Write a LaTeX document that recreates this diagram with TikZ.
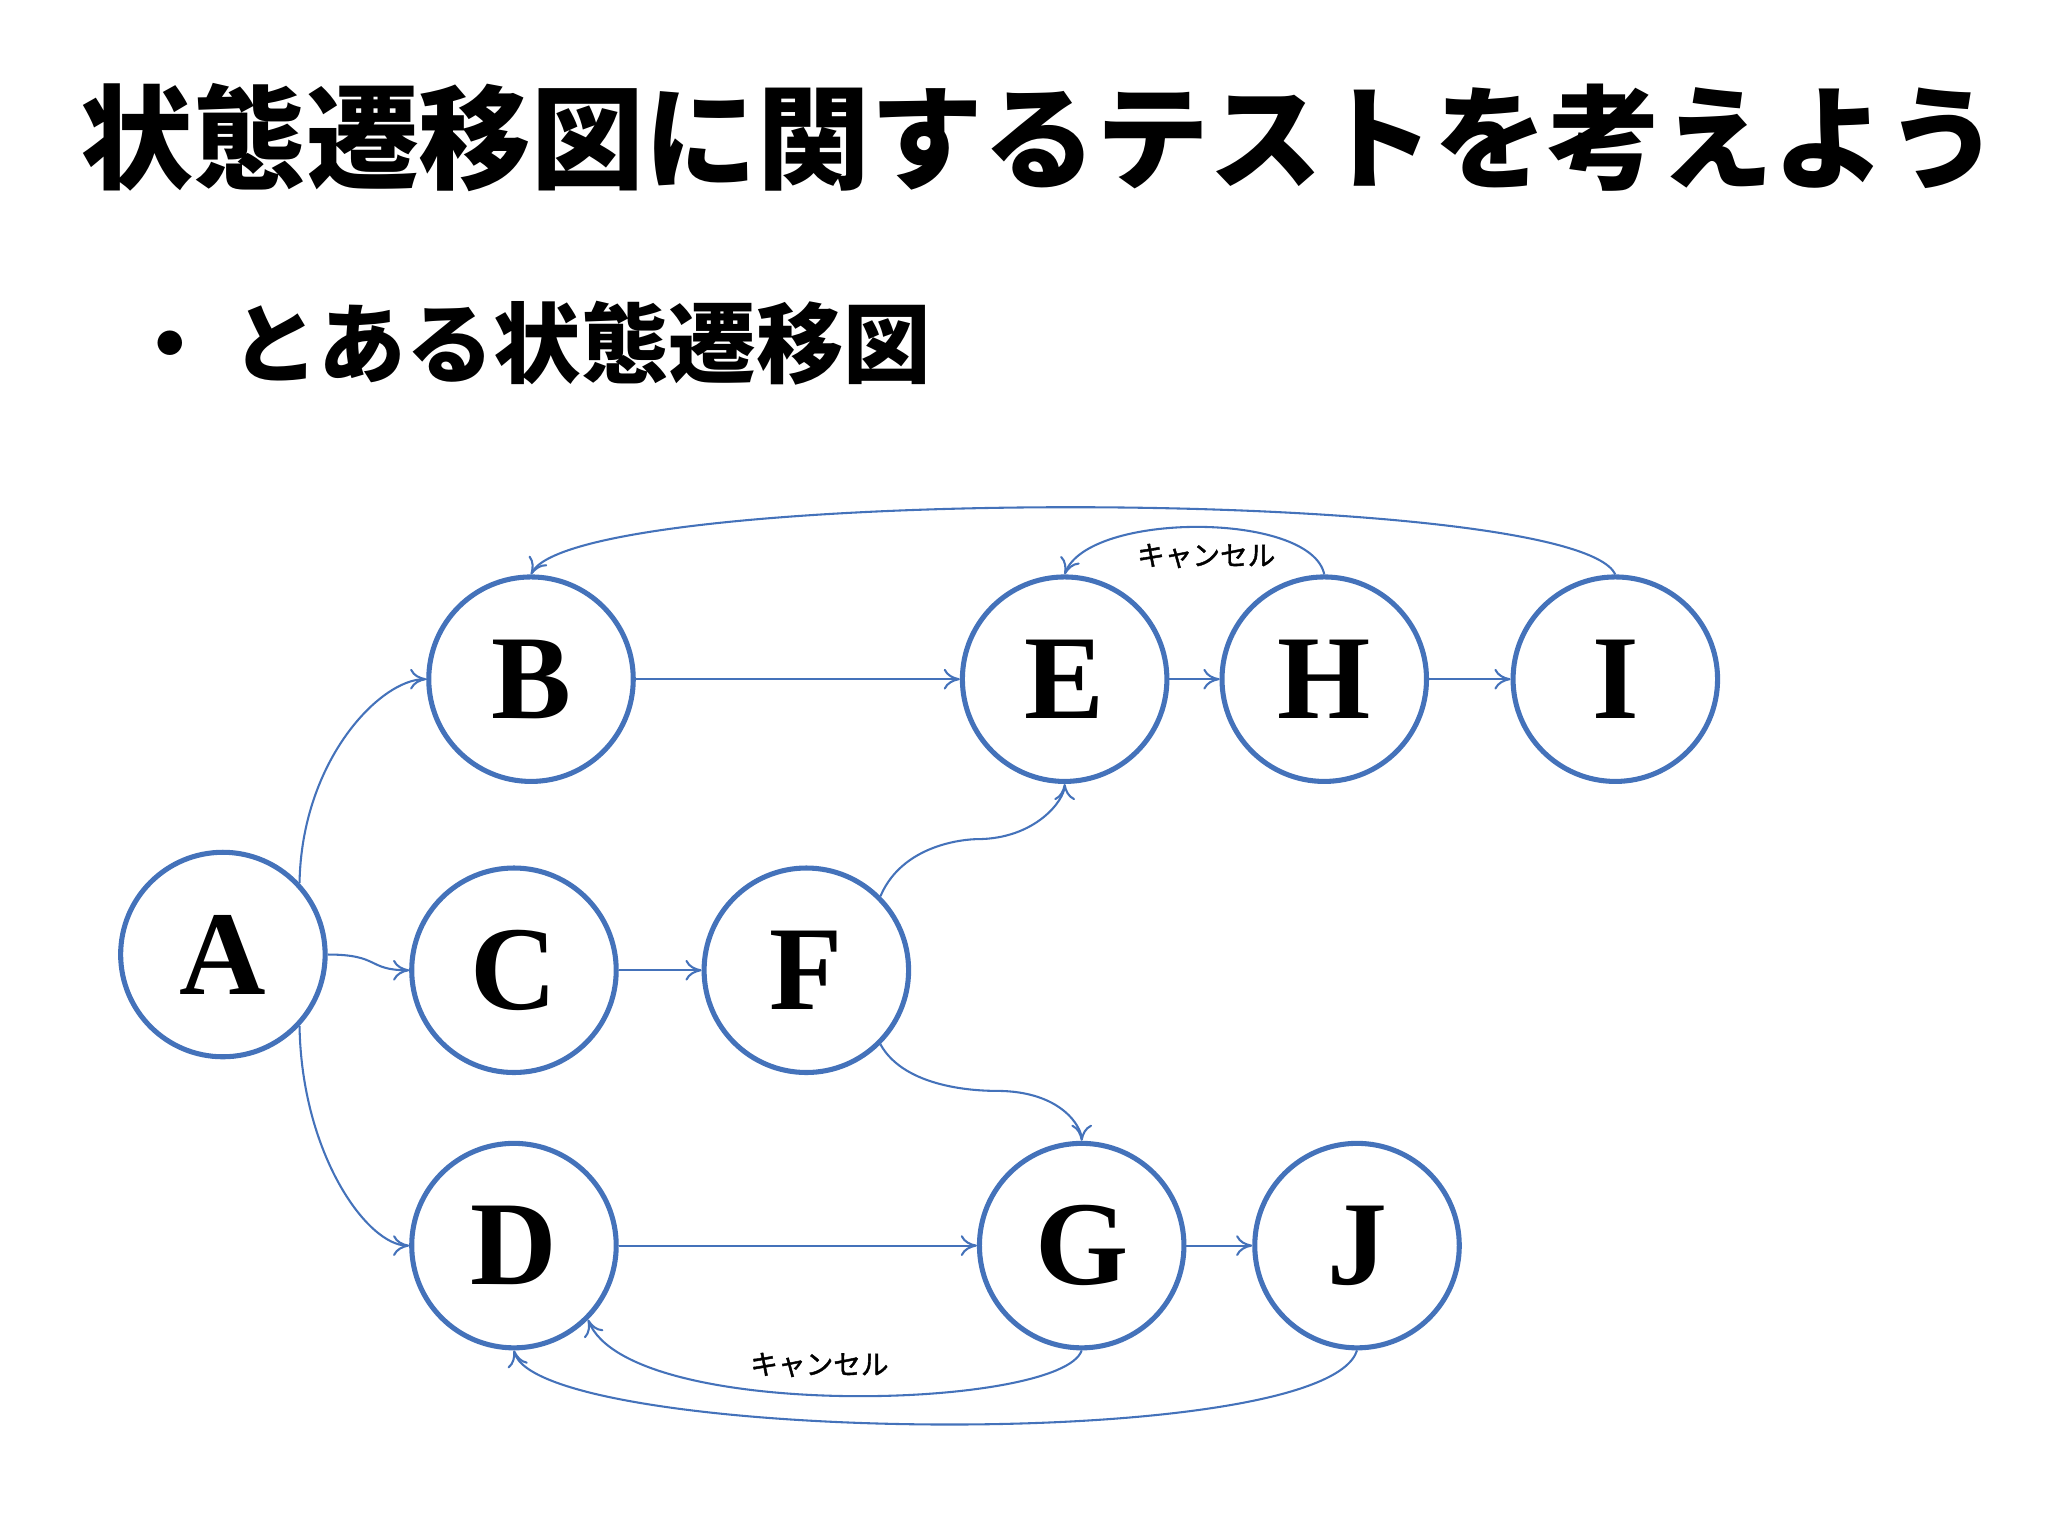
\documentclass[tikz,border=0pt]{standalone}
\usepackage{fontspec}
\newfontfamily\cjk{Noto Sans CJK JP Black}
\newfontfamily\cjkm{Noto Sans CJK JP}[FakeBold=1.5]
\setmainfont{Liberation Serif}
\usetikzlibrary{arrows.meta}
\definecolor{lb}{RGB}{68,114,186}
\begin{document}
\begin{tikzpicture}[x=0.02cm,y=-0.02cm,
  st/.style={circle,draw=lb,line width=2.2pt,minimum size=3.12cm,inner sep=0pt,font=\fontsize{52}{52}\selectfont\bfseries},
  ed/.style={draw=lb,line width=0.9pt,-{To[length=7pt,width=9pt]}},
  lab/.style={font=\cjkm\fontsize{12}{12}\selectfont}]
\useasboundingbox (0,0) rectangle (1562,1171);
\node[anchor=west,font=\cjk\fontsize{49}{49}\selectfont] (t) at (55,105) {状態遷移図に関するテストを考えよう};
\node[anchor=west,font=\cjk\fontsize{38}{38}\selectfont] (s) at (90,262) {・\hspace{0.2em}とある状態遷移図};
\node[st] (A) at (170,728) {A};
\node[st] (B) at (405,518) {B};
\node[st] (C) at (392,740) {C};
\node[st] (D) at (392,950) {D};
\node[st] (E) at (812,518) {E};
\node[st] (F) at (615,740) {F};
\node[st] (G) at (825,950) {G};
\node[st] (H) at (1010,518) {H};
\node[st] (I) at (1232,518) {I};
\node[st] (J) at (1035,950) {J};
\draw[ed] (A.43) .. controls (230,580) and (290,518) .. (B.west);
\draw[ed] (A.east) .. controls (290,728) and (280,740) .. (C.west);
\draw[ed] (A.-43) .. controls (230,880) and (280,950) .. (D.west);
\draw[ed] (B) -- (E);
\draw[ed] (C) -- (F);
\draw[ed] (E) -- (H);
\draw[ed] (H) -- (I);
\draw[ed] (D) -- (G);
\draw[ed] (G) -- (J);
\draw[ed] (F.45) .. controls (690,640) and (745,640) .. (745,640) .. controls (790,640) and (812,610) .. (E.south);
\draw[ed] (F.-45) .. controls (690,830) and (745,832) .. (760,832) .. controls (810,832) and (825,860) .. (G.north);
\draw[ed] (H.north) .. controls (1000,390) and (830,390) .. (E.north);
\node[lab] (l1) at (920,424) {キャンセル};
\draw[ed] (I.north) .. controls (1200,370) and (440,370) .. (B.north);
\draw[ed] (G.south) .. controls (810,1075) and (480,1085) .. (D.-45);
\node[lab] (l2) at (625,1041) {キャンセル};
\draw[ed] (J.south) .. controls (1010,1110) and (410,1100) .. (D.south);
\end{tikzpicture}
\end{document}
